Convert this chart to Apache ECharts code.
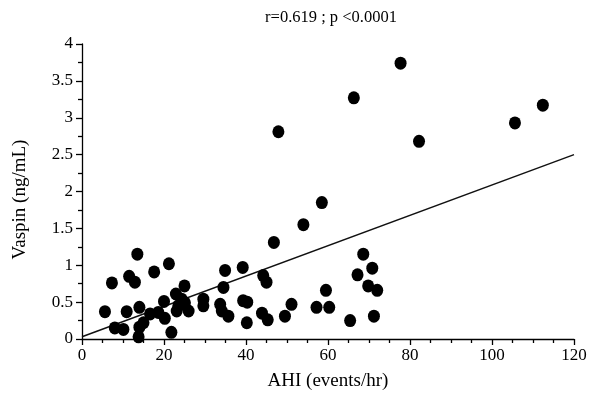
<!DOCTYPE html>
<html>
<head>
<meta charset="utf-8">
<script src="https://cdn.jsdelivr.net/npm/echarts@6/dist/echarts.min.js"></script>
<style>html,body{margin:0;padding:0;background:#fff;}#c{width:594px;height:402px;}</style>
</head>
<body>
<div id="c"></div>
<script>
var ahi = [5.6,7.3,8.0,10.1,10.9,11.5,12.9,13.5,14.0,14.0,13.8,15.0,16.6,17.6,18.6,20.0,20.2,21.2,21.8,22.9,24.3,23.5,25.1,23.1,26.0,25.0,29.6,29.6,34.9,34.5,33.7,34.1,35.7,39.2,39.3,40.3,40.2,44.2,45.0,43.9,45.3,46.8,47.9,49.5,51.1,54.0,57.2,58.5,59.5,60.3,65.4,66.3,67.2,68.6,69.8,70.8,72.0,71.2,77.7,82.2,105.6,112.4];
var vaspin = [0.37,0.76,0.15,0.13,0.37,0.85,0.77,1.15,0.43,0.16,0.03,0.22,0.34,0.91,0.36,0.51,0.28,1.02,0.09,0.61,0.54,0.45,0.49,0.38,0.38,0.72,0.54,0.45,0.93,0.70,0.47,0.38,0.31,0.97,0.52,0.50,0.22,0.86,0.77,0.35,0.26,1.31,2.81,0.31,0.47,1.55,0.43,1.85,0.66,0.43,0.25,3.27,0.87,1.15,0.72,0.96,0.66,0.31,3.74,2.68,2.93,3.17];
var fitX = [0, 120];
var fitY = [0.03, 2.50];
var title = "r=0.619 ; p <0.0001";
var xName = "AHI (events/hr)";
var yName = "Vaspin (ng/mL)";

var pts = ahi.map(function(x,i){return [x, vaspin[i]];});
var fit = fitX.map(function(x,i){return [x, fitY[i]];});
var serif = "Liberation Serif";
var chart = echarts.init(document.getElementById('c'), null, {renderer:'canvas'});
chart.setOption({
  animation:false,
  backgroundColor:'#fff',
  title:{text:title, left:326, top:4, textAlign:'center',
    textStyle:{fontFamily:serif, fontSize:16.5, fontWeight:'normal', color:'#000'}},
  grid:{left:82, right:20, top:44, bottom:63},
  xAxis:{type:'value', min:0, max:120, interval:20,
    name:xName, nameLocation:'middle', nameGap:33,
    nameTextStyle:{fontFamily:serif, fontSize:19, color:'#000'},
    axisLine:{show:true, onZero:false, lineStyle:{color:'#000', width:1.3}},
    axisTick:{show:true, inside:false, length:6, lineStyle:{color:'#000', width:1.3}},
    minorTick:{show:true, splitNumber:4, length:4, lineStyle:{color:'#000', width:1.3}},
    axisLabel:{fontFamily:serif, fontSize:17, color:'#000', margin:8},
    splitLine:{show:false}},
  yAxis:{type:'value', min:0, max:4, interval:0.5,
    name:yName, nameLocation:'middle', nameGap:52,
    nameTextStyle:{fontFamily:serif, fontSize:19, color:'#000', padding:[0,16,0,0]},
    axisLine:{show:true, onZero:false, lineStyle:{color:'#000', width:1.3}},
    axisTick:{show:true, inside:false, length:6, lineStyle:{color:'#000', width:1.3}},
    minorTick:{show:true, splitNumber:2, length:4, lineStyle:{color:'#000', width:1.3}},
    axisLabel:{fontFamily:serif, fontSize:17, color:'#000', margin:9},
    splitLine:{show:false}},
  series:[
    {type:'line', data:fit, symbol:'none', lineStyle:{color:'#111', width:1.5}, z:1},
    {type:'scatter', data:pts, symbol:'circle', symbolSize:[12,13], itemStyle:{color:'#000', opacity:1}, z:2}
  ]
});
</script>
</body>
</html>
